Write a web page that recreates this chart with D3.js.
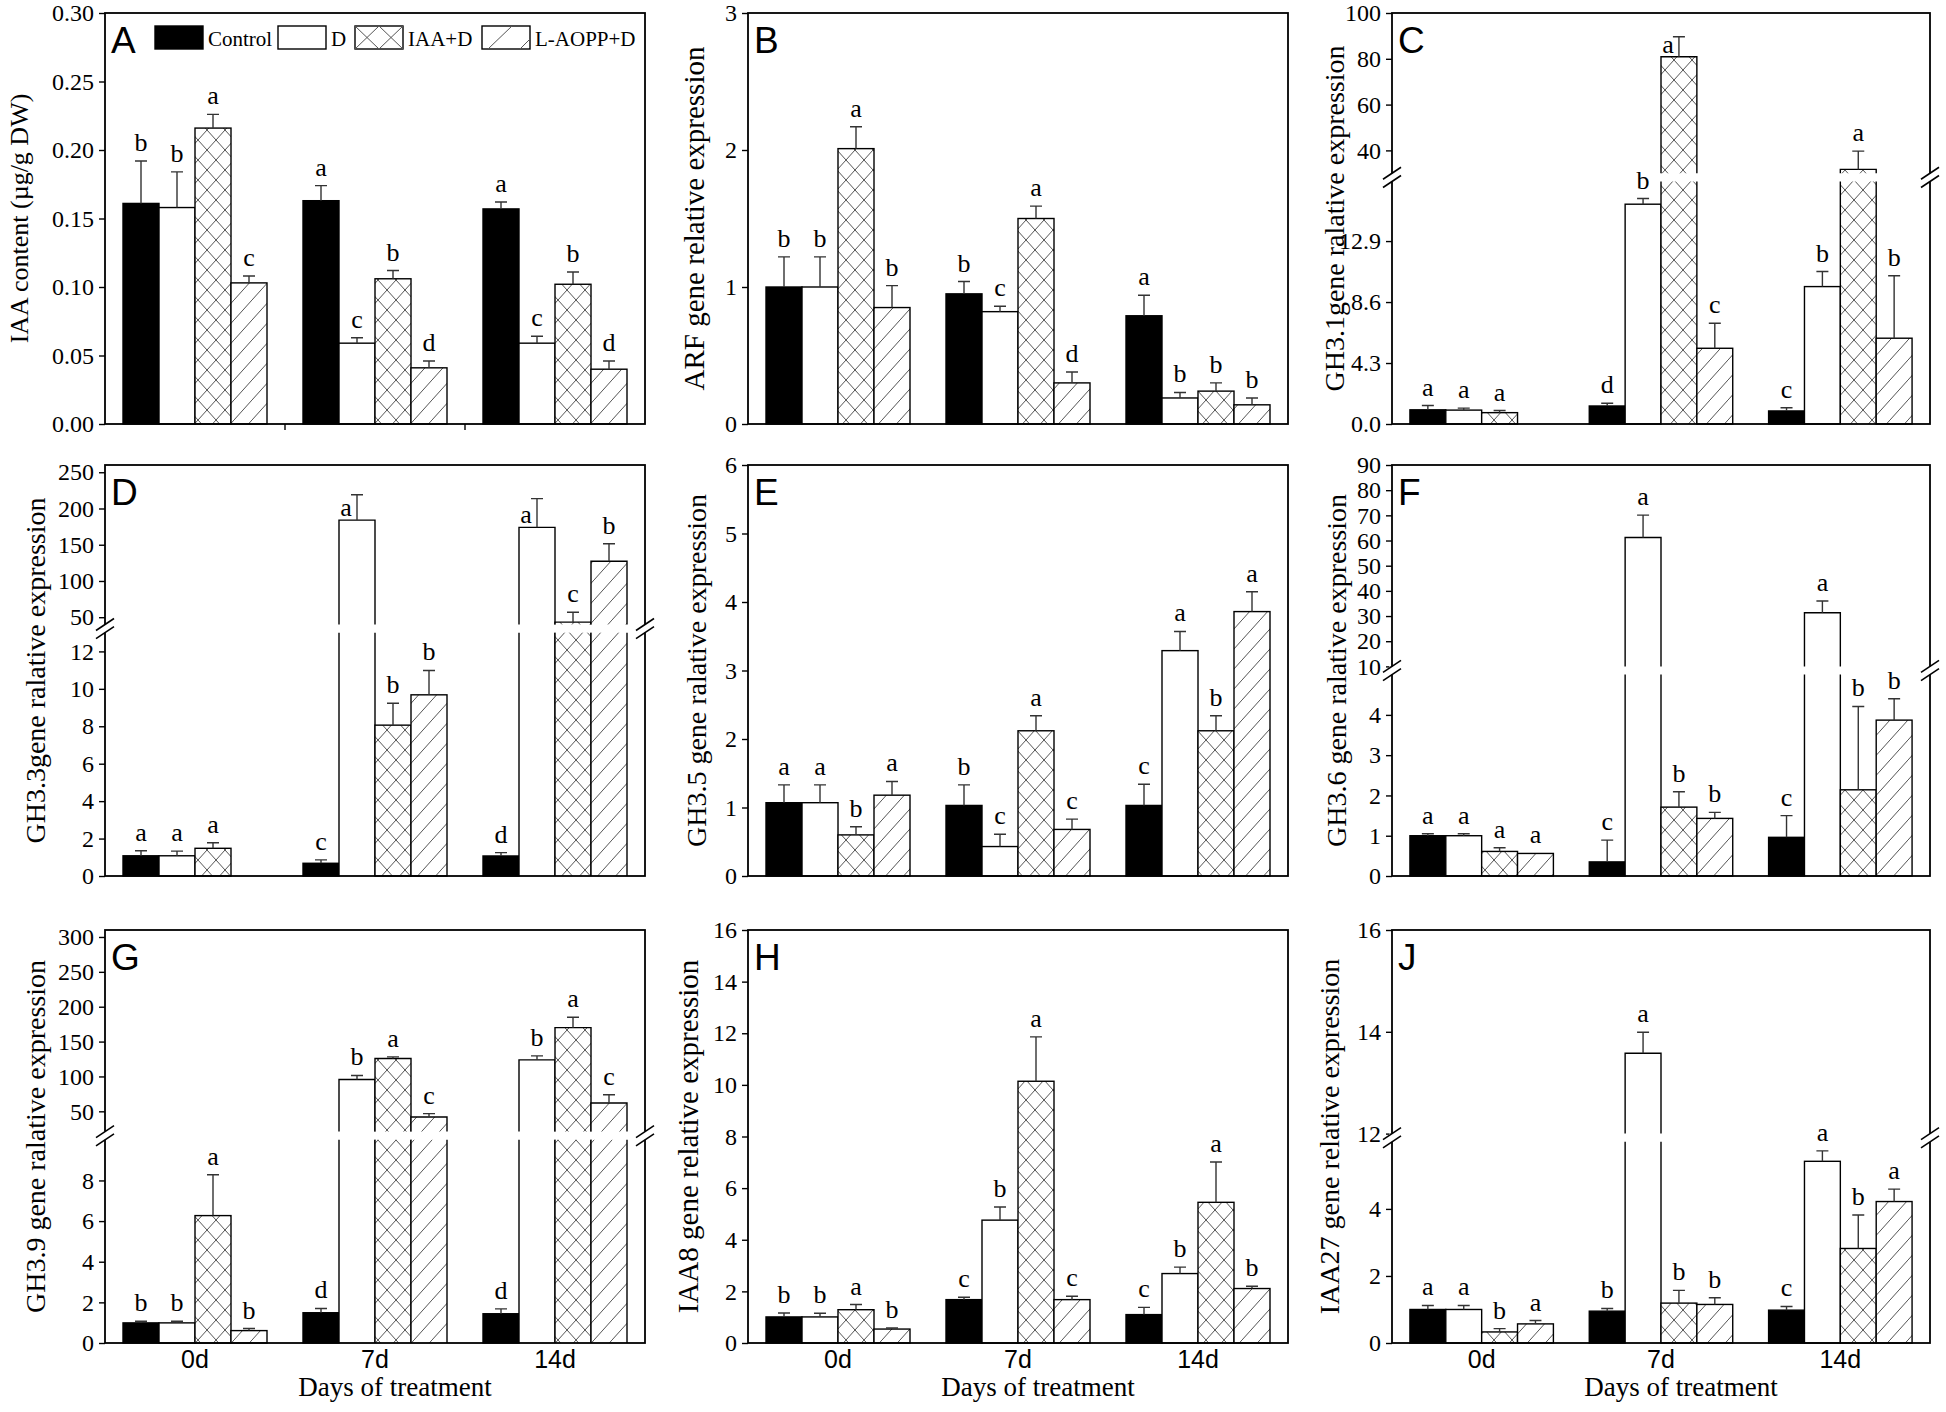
<!DOCTYPE html>
<html>
<head>
<meta charset="utf-8">
<script src="https://cdn.jsdelivr.net/npm/d3@7"></script>
<style>
  body { margin: 0; background: #fff; }
  svg { display: block; font-family: "Liberation Serif", "Times New Roman", serif; }
</style>
</head>
<body>
<svg id="chart" width="1946" height="1412"></svg>
<script>
const days = ["0d", "7d", "14d"];
const treatments = ["Control", "D", "IAA+D", "L-AOPP+D"];

// A - IAA content
const aMean = [[0.161, 0.158, 0.216, 0.103], [0.163, 0.059, 0.106, 0.041], [0.157, 0.059, 0.102, 0.040]];
const aSe   = [[0.031, 0.026, 0.010, 0.005], [0.011, 0.004, 0.006, 0.005], [0.005, 0.005, 0.009, 0.006]];
const aSig  = [["b", "b", "a", "c"], ["a", "c", "b", "d"], ["a", "c", "b", "d"]];
const aTicks = [0, 0.05, 0.10, 0.15, 0.20, 0.25, 0.30];

// B - ARF
const bMean = [[1.0, 1.0, 2.01, 0.85], [0.95, 0.82, 1.5, 0.30], [0.79, 0.19, 0.24, 0.14]];
const bSe   = [[0.22, 0.22, 0.16, 0.16], [0.09, 0.04, 0.09, 0.08], [0.15, 0.04, 0.06, 0.05]];
const bSig  = [["b", "b", "a", "b"], ["b", "c", "a", "d"], ["a", "b", "b", "b"]];
const bTicks = [0, 1, 2, 3];

// C - GH3.1 (broken axis)
const cMean = [[1.0, 0.98, 0.8, null], [1.27, 15.5, 80.9, 5.34], [0.92, 9.69, 31.7, 6.05]];
const cSe   = [[0.3, 0.14, 0.15, null], [0.19, 0.4, 8.7, 1.76], [0.23, 1.06, 8.0, 4.4]];
const cSig  = [["a", "a", "a", null], ["d", "b", "a", "c"], ["c", "b", "a", "b"]];
const cLowTicks = [0, 4.3, 8.6, 12.9];
const cUpTicks = [40, 60, 80, 100];

// D - GH3.3 (broken axis)
const dMean = [[1.08, 1.08, 1.48, null], [0.68, 184, 8.06, 9.68], [1.07, 174, 43.2, 127.3]];
const dSe   = [[0.27, 0.25, 0.3, null], [0.18, 35, 1.17, 1.3], [0.18, 39.6, 13.6, 24.1]];
const dSig  = [["a", "a", "a", null], ["c", "a", "b", "b"], ["d", "a", "c", "b"]];
const dLowTicks = [0, 2, 4, 6, 8, 10, 12];
const dUpTicks = [50, 100, 150, 200, 250];

// E - GH3.5
const eMean = [[1.07, 1.07, 0.6, 1.18], [1.03, 0.43, 2.12, 0.68], [1.03, 3.29, 2.12, 3.86]];
const eSe   = [[0.26, 0.26, 0.12, 0.2], [0.3, 0.18, 0.22, 0.15], [0.31, 0.28, 0.22, 0.29]];
const eSig  = [["a", "a", "b", "a"], ["b", "c", "a", "c"], ["c", "a", "b", "a"]];
const eTicks = [0, 1, 2, 3, 4, 5, 6];

// F - GH3.6 (broken axis)
const fMean = [[1.0, 1.0, 0.61, 0.56], [0.35, 61.2, 1.71, 1.43], [0.96, 31.3, 2.14, 3.87]];
const fSe   = [[0.05, 0.05, 0.09, 0], [0.54, 8.9, 0.38, 0.15], [0.54, 4.7, 2.07, 0.53]];
const fSig  = [["a", "a", "a", "a"], ["c", "a", "b", "b"], ["c", "a", "b", "b"]];
const fLowTicks = [0, 1, 2, 3, 4];
const fUpTicks = [10, 20, 30, 40, 50, 60, 70, 80, 90];

// G - GH3.9 (broken axis)
const gMean = [[0.99, 0.99, 6.27, 0.61], [1.49, 95.7, 125.7, 41.9], [1.44, 123.8, 170, 61.9]];
const gSe   = [[0.08, 0.08, 2.01, 0.1], [0.21, 5.7, 2.3, 4.8], [0.24, 5.7, 14.8, 11.9]];
const gSig  = [["b", "b", "a", "b"], ["d", "b", "a", "c"], ["d", "b", "a", "c"]];
const gLowTicks = [0, 2, 4, 6, 8];
const gUpTicks = [50, 100, 150, 200, 250, 300];

// H - IAA8
const hMean = [[1.01, 1.01, 1.29, 0.54], [1.68, 4.76, 10.14, 1.68], [1.1, 2.69, 5.45, 2.11]];
const hSe   = [[0.15, 0.14, 0.2, 0.04], [0.09, 0.51, 1.72, 0.13], [0.28, 0.25, 1.56, 0.09]];
const hSig  = [["b", "b", "a", "b"], ["c", "b", "a", "c"], ["c", "b", "a", "b"]];
const hTicks = [0, 2, 4, 6, 8, 10, 12, 14, 16];

// J - IAA27 (broken axis)
const jMean = [[1.0, 1.0, 0.33, 0.57], [0.95, 13.58, 1.19, 1.15], [0.98, 5.42, 2.82, 4.22]];
const jSe   = [[0.12, 0.12, 0.1, 0.1], [0.08, 0.41, 0.38, 0.2], [0.11, 0.31, 1.0, 0.37]];
const jSig  = [["a", "a", "b", "a"], ["b", "a", "b", "b"], ["c", "a", "b", "a"]];
const jLowTicks = [0, 2, 4];
const jUpTicks = [12, 14, 16];

// layout
const cols = [[105, 645], [748, 1288], [1392, 1930]];
const rows = [[13, 424], [465, 876], [930, 1343]];

const panels = [
  { id: "A", col: 0, row: 0, mean: aMean, se: aSe, sig: aSig, title: "IAA content (\u00b5g/g DW)", tSize: 26, tx: 19,
    domain: [0, 0.30], ticks: aTicks, fmt: d3.format(".2f"), legend: true, sepTicks: true },
  { id: "B", col: 1, row: 0, mean: bMean, se: bSe, sig: bSig, title: "ARF gene relative expression", tSize: 29, tx: 694,
    domain: [0, 3], ticks: bTicks, fmt: d3.format("d") },
  { id: "C", col: 2, row: 0, mean: cMean, se: cSe, sig: cSig, title: "GH3.1gene ralative expression", tSize: 28, tx: 1334,
    lower: [0, 17.1], upper: [30, 100], lowFrac: 0.59, lowTicks: cLowTicks, upTicks: cUpTicks, lowFmt: d3.format(".1f"), upFmt: d3.format("d") },
  { id: "D", col: 0, row: 1, mean: dMean, se: dSe, sig: dSig, title: "GH3.3gene ralative expression", tSize: 28, tx: 35,
    lower: [0, 13], upper: [40, 260], lowFrac: 0.592, lowTicks: dLowTicks, upTicks: dUpTicks, lowFmt: d3.format("d"), upFmt: d3.format("d") },
  { id: "E", col: 1, row: 1, mean: eMean, se: eSe, sig: eSig, title: "GH3.5 gene ralative expression", tSize: 28, tx: 696,
    domain: [0, 6], ticks: eTicks, fmt: d3.format("d") },
  { id: "F", col: 2, row: 1, mean: fMean, se: fSe, sig: fSig, title: "GH3.6 gene ralative expression", tSize: 28, tx: 1336,
    lower: [0, 5], upper: [10, 90], lowFrac: 0.49, lowTicks: fLowTicks, upTicks: fUpTicks, lowFmt: d3.format("d"), upFmt: d3.format("d") },
  { id: "G", col: 0, row: 2, mean: gMean, se: gSe, sig: gSig, title: "GH3.9 gene ralative expression", tSize: 28, tx: 35,
    lower: [0, 10], upper: [21, 310], lowFrac: 0.492, lowTicks: gLowTicks, upTicks: gUpTicks, lowFmt: d3.format("d"), upFmt: d3.format("d"), xlab: true },
  { id: "H", col: 1, row: 2, mean: hMean, se: hSe, sig: hSig, title: "IAA8 gene relative expression", tSize: 29, tx: 688,
    domain: [0, 16], ticks: hTicks, fmt: d3.format("d"), xlab: true },
  { id: "J", col: 2, row: 2, mean: jMean, se: jSe, sig: jSig, title: "IAA27 gene relative expression", tSize: 28, tx: 1329,
    lower: [0, 6], upper: [12, 16], lowFrac: 0.487, lowTicks: jLowTicks, upTicks: jUpTicks, lowFmt: d3.format("d"), upFmt: d3.format("d"), xlab: true }
];

const svg = d3.select("#chart");
const defs = svg.append("defs");

// fill patterns
const cross = defs.append("pattern").attr("id", "cross")
  .attr("patternUnits", "userSpaceOnUse").attr("width", 18).attr("height", 20);
cross.append("rect").attr("width", 18).attr("height", 20).attr("fill", "#fff");
cross.append("path").attr("d", "M0,0L18,20M18,0L0,20").attr("stroke", "#555").attr("stroke-width", 1);

const hatch = defs.append("pattern").attr("id", "hatch")
  .attr("patternUnits", "userSpaceOnUse").attr("width", 18).attr("height", 20);
hatch.append("rect").attr("width", 18).attr("height", 20).attr("fill", "#fff");
hatch.append("path").attr("d", "M0,20L18,0").attr("stroke", "#555").attr("stroke-width", 1);

const fills = ["#000", "#fff", "url(#cross)", "url(#hatch)"];

// y scale, with optional break
function makeY(p, top, bottom) {
  if (!p.upper) {
    const s = d3.scaleLinear().domain(p.domain).range([bottom, top]);
    return { broken: false, map: s, lin: s };
  }
  const h = bottom - top;
  const lowTop = bottom - p.lowFrac * h;
  const gapTop = lowTop - 0.02 * h;
  const low = d3.scaleLinear().domain(p.lower).range([bottom, lowTop]);
  const up = d3.scaleLinear().domain(p.upper).range([gapTop, top]);
  return {
    broken: true, low, up, lowTop, gapTop, lowMax: p.lower[1],
    map: v => v <= p.lower[1] ? low(v) : up(Math.max(v, p.upper[0]))
  };
}

function drawPanel(p) {
  const [x0, x1] = cols[p.col];
  const [y0, y1] = rows[p.row];
  const g = svg.append("g");

  const x = d3.scaleBand().domain(days).range([x0, x1]).paddingInner(0.2).paddingOuter(0.1);
  const bw = x.bandwidth() / treatments.length;
  const y = makeY(p, y0, y1);

  days.forEach((d, i) => {
    treatments.forEach((t, j) => {
      const v = p.mean[i][j];
      if (v == null) return;
      const bx = x(d) + j * bw;
      const top = y.map(v);

      if (!y.broken || v <= y.lowMax) {
        g.append("rect")
          .attr("x", bx).attr("y", top)
          .attr("width", bw).attr("height", y1 - top)
          .attr("fill", fills[j])
          .attr("stroke", "#000").attr("stroke-width", 1.4);
      } else {
        // lower piece, open at the top
        g.append("rect")
          .attr("x", bx).attr("y", y.lowTop)
          .attr("width", bw).attr("height", y1 - y.lowTop)
          .attr("fill", fills[j]);
        g.append("path")
          .attr("d", `M${bx},${y1}V${y.lowTop}M${bx + bw},${y.lowTop}V${y1}`)
          .attr("stroke", "#000").attr("stroke-width", 1.4).attr("fill", "none");
        // upper piece, open at the bottom
        g.append("rect")
          .attr("x", bx).attr("y", top)
          .attr("width", bw).attr("height", y.gapTop - top)
          .attr("fill", fills[j]);
        g.append("path")
          .attr("d", `M${bx},${y.gapTop}V${top}H${bx + bw}V${y.gapTop}`)
          .attr("stroke", "#000").attr("stroke-width", 1.4).attr("fill", "none");
      }

      // error bar (upper half only)
      const se = p.se[i][j];
      const cx = bx + bw / 2;
      const et = y.map(v + se);
      if (se > 0) {
        g.append("path")
          .attr("d", `M${cx},${top}V${et}M${cx - 6},${et}H${cx + 6}`)
          .attr("stroke", "#333").attr("stroke-width", 1.4).attr("fill", "none");
      }

      // significance letter
      const s = p.sig[i][j];
      if (s) {
        const nearTop = et < y0 + 0.1 * (y1 - y0);
        g.append("text")
          .attr("x", nearTop ? cx - 11 : cx)
          .attr("y", nearTop ? top - 4 : et - 10)
          .attr("text-anchor", "middle")
          .style("font-size", "26px")
          .text(s);
      }
    });
  });

  // frame
  g.append("rect")
    .attr("x", x0).attr("y", y0)
    .attr("width", x1 - x0).attr("height", y1 - y0)
    .attr("fill", "none").attr("stroke", "#000").attr("stroke-width", 1.8);

  // y axes
  function styleAxis(ax) {
    ax.select(".domain").remove();
    ax.selectAll(".tick line").attr("stroke", "#000").attr("stroke-width", 1.4);
    ax.selectAll(".tick text")
      .style("font-family", "'Liberation Serif', 'Times New Roman', serif")
      .style("font-size", "24px").attr("fill", "#000");
  }
  if (!y.broken) {
    const ax = g.append("g").attr("transform", `translate(${x0},0)`)
      .call(d3.axisLeft(y.lin).tickValues(p.ticks).tickFormat(p.fmt).tickSize(6).tickPadding(5));
    styleAxis(ax);
  } else {
    const axl = g.append("g").attr("transform", `translate(${x0},0)`)
      .call(d3.axisLeft(y.low).tickValues(p.lowTicks).tickFormat(p.lowFmt).tickSize(6).tickPadding(5));
    styleAxis(axl);
    const axu = g.append("g").attr("transform", `translate(${x0},0)`)
      .call(d3.axisLeft(y.up).tickValues(p.upTicks).tickFormat(p.upFmt).tickSize(6).tickPadding(5));
    styleAxis(axu);

    // break in the left and right axis lines
    [x0, x1].forEach(xa => {
      g.append("rect")
        .attr("x", xa - 3).attr("y", y.gapTop)
        .attr("width", 6).attr("height", y.lowTop - y.gapTop)
        .attr("fill", "#fff");
      [y.gapTop, y.lowTop].forEach(yy => {
        g.append("line")
          .attr("x1", xa - 9).attr("y1", yy + 6)
          .attr("x2", xa + 9).attr("y2", yy - 6)
          .attr("stroke", "#000").attr("stroke-width", 1.6);
      });
    });
  }

  // small ticks between day groups
  if (p.sepTicks) {
    [1, 2].forEach(k => {
      const sx = (x(days[k - 1]) + x.bandwidth() + x(days[k])) / 2;
      g.append("line")
        .attr("x1", sx).attr("x2", sx).attr("y1", y1).attr("y2", y1 + 6)
        .attr("stroke", "#000").attr("stroke-width", 1.4);
    });
  }

  // panel letter
  g.append("text")
    .attr("x", x0 + 6).attr("y", y0 + 40)
    .style("font-family", "'Liberation Sans', Arial, sans-serif")
    .style("font-size", "37px")
    .text(p.id);

  // y title
  g.append("text")
    .attr("transform", `translate(${p.tx},${(y0 + y1) / 2}) rotate(-90)`)
    .attr("text-anchor", "middle")
    .attr("dominant-baseline", "central")
    .style("font-size", p.tSize + "px")
    .text(p.title);

  // x labels for the bottom row
  if (p.xlab) {
    g.selectAll(".xl").data(days).enter().append("text")
      .attr("x", d => x(d) + x.bandwidth() / 2)
      .attr("y", y1 + 25)
      .attr("text-anchor", "middle")
      .style("font-family", "'Liberation Sans', Arial, sans-serif")
      .style("font-size", "25px")
      .text(d => d);
    g.append("text")
      .attr("x", (x0 + x1) / 2 + 20).attr("y", y1 + 53)
      .attr("text-anchor", "middle")
      .style("font-size", "27px")
      .text("Days of treatment");
  }

  // legend (panel A)
  if (p.legend) {
    const legX = [155, 278, 355, 482];
    const lg = g.append("g");
    treatments.forEach((t, j) => {
      const lx = legX[j], ly = y0 + 13;
      lg.append("rect")
        .attr("x", lx).attr("y", ly)
        .attr("width", 48).attr("height", 23)
        .attr("fill", j === 0 ? "#000" : "#fff")
        .attr("stroke", "#000").attr("stroke-width", 1.4);
      if (j === 2) {
        lg.append("path")
          .attr("d", `M${lx},${ly}L${lx + 24},${ly + 23}L${lx + 48},${ly}M${lx},${ly + 23}L${lx + 24},${ly}L${lx + 48},${ly + 23}`)
          .attr("stroke", "#555").attr("stroke-width", 1).attr("fill", "none");
      }
      if (j === 3) {
        lg.append("path")
          .attr("d", `M${lx + 6},${ly + 23}L${lx + 30},${ly}M${lx + 38},${ly + 23}L${lx + 48},${ly + 13}`)
          .attr("stroke", "#555").attr("stroke-width", 1).attr("fill", "none");
      }
      lg.append("text")
        .attr("x", lx + 53).attr("y", y0 + 33)
        .style("font-size", "21px")
        .text(t);
    });
  }
}

panels.forEach(drawPanel);
</script>
</body>
</html>
